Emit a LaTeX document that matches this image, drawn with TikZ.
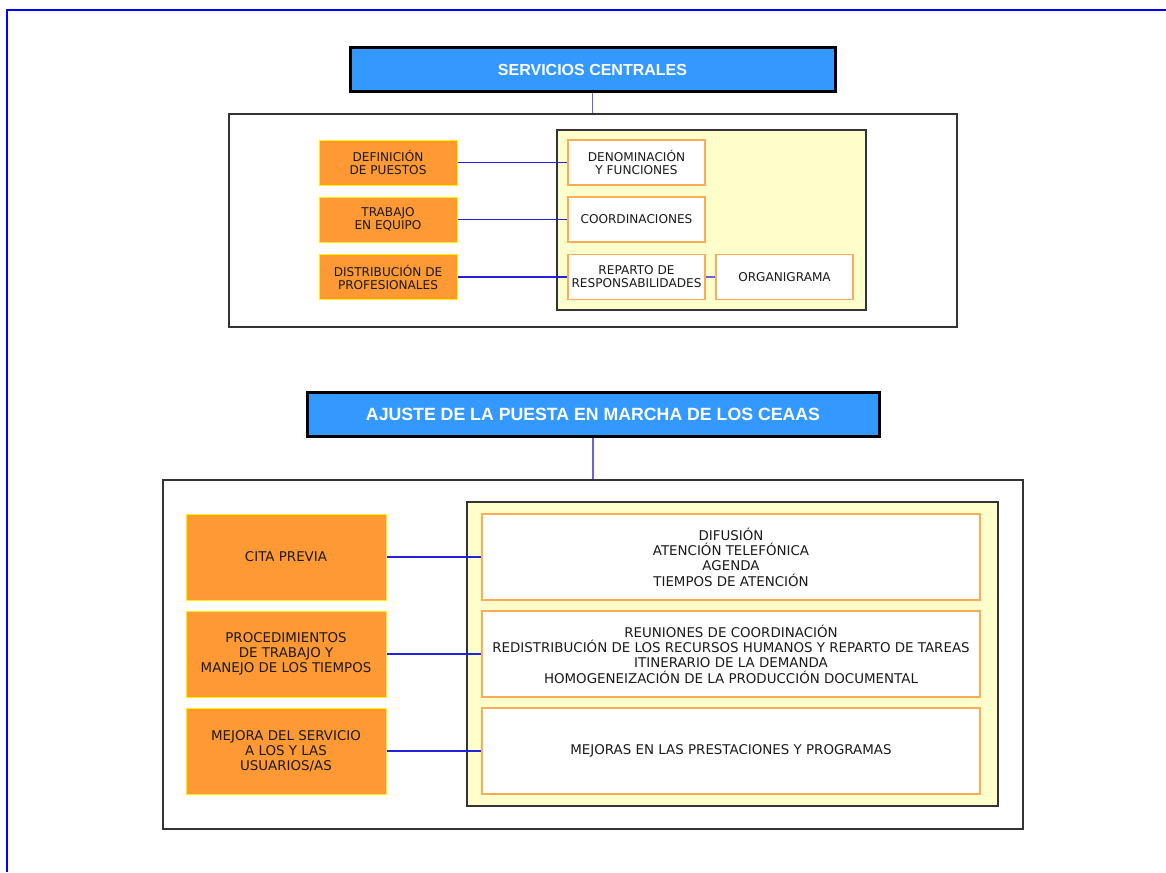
\documentclass[tikz,border=0pt]{standalone}
\usepackage{fontspec}
\setmainfont{DejaVu Sans}
\newfontfamily\headfont{Liberation Sans}
\definecolor{hdrblue}{HTML}{3399FF}
\definecolor{orng}{HTML}{FF9933}
\definecolor{paleyel}{HTML}{FFFFCC}
\definecolor{leafedge}{HTML}{FFAA55}
\definecolor{linkblue}{HTML}{2222DD}
\definecolor{ink}{HTML}{1A1A1A}
\begin{document}
\begin{tikzpicture}[x=1pt,y=-1pt,
  box/.style={rectangle,inner sep=0pt,align=center,text=ink},
  outerframe/.style={box,draw=black!80,line width=1.3pt,fill=white},
  hdr/.style={box,draw=black,line width=3pt,fill=hdrblue,text=white,minimum height=44pt},
  item/.style={box,draw=yellow,fill=orng,line width=1pt},
  panel/.style={box,draw=black!80,fill=paleyel,line width=1.2pt},
  leaf/.style={box,draw=leafedge,fill=white,line width=1.2pt},
  small/.style={font=\fontsize{12.1}{13}\selectfont,minimum width=138pt,minimum height=45pt},
  large/.style={font=\fontsize{13.4}{15.3}\selectfont,minimum height=86pt},
  link/.style={draw=linkblue,line width=1.2pt},
  pageline/.style={draw=blue,line width=2pt}]
\useasboundingbox (0,0) rectangle (1166,872);

% page border (top and left edges)
\draw[pageline] (7,872) -- (7,10) -- (1166,10);

% ---------- upper block ----------
\node[hdr,minimum width=485pt,font=\headfont\bfseries\fontsize{16}{18}\selectfont] (h1) at (592.5,70) {SERVICIOS CENTRALES};
\node[outerframe,minimum width=728pt,minimum height=213pt] (f1) at (593,220.5) {};
\draw[link,draw=linkblue!70] (h1.south) -- (h1.south |- f1.north);

\node[panel,minimum width=309pt,minimum height=180pt] (p1) at (711.5,220) {};

\node[item,small] (a1) at (388,162.5) {DEFINICIÓN\\DE PUESTOS};
\node[item,small] (a2) at (388,219.5) {TRABAJO\\EN EQUIPO};
\node[item,small] (a3) at (388,277) {DISTRIBUCIÓN DE\\PROFESIONALES};

\node[leaf,small,minimum width=137pt] (b1) at (636.5,162.5) {DENOMINACIÓN\\Y FUNCIONES};
\node[leaf,small,minimum width=137pt] (b2) at (636.5,219.5) {COORDINACIONES};
\node[leaf,small,minimum width=137pt] (b3) at (636.5,277) {REPARTO DE\\RESPONSABILIDADES};
\node[leaf,small,minimum width=137pt] (b4) at (784.5,277) {ORGANIGRAMA};

\draw[link] (a1.east) -- (b1.west);
\draw[link] (a2.east) -- (b2.west);
\draw[link,line width=2pt] (a3.east) -- (b3.west);
\draw[link,draw=linkblue!70] (b3.east) -- (b4.west);

% ---------- lower block ----------
\node[hdr,minimum width=572pt,font=\headfont\bfseries\fontsize{17.7}{20}\selectfont] (h2) at (593,414) {AJUSTE DE LA PUESTA EN MARCHA DE LOS CEAAS};
\node[outerframe,minimum width=860pt,minimum height=349pt] (f2) at (593,654.5) {};
\draw[link,draw=linkblue!70] (h2.south) -- (h2.south |- f2.north);

\node[panel,minimum width=531pt,minimum height=304pt] (p2) at (732.5,654) {};

\node[item,large,minimum width=200pt] (c1) at (286,557) {CITA PREVIA};
\node[item,large,minimum width=200pt] (c2) at (286,654) {PROCEDIMIENTOS\\DE TRABAJO Y\\MANEJO DE LOS TIEMPOS};
\node[item,large,minimum width=200pt] (c3) at (286,751) {MEJORA DEL SERVICIO\\A LOS Y LAS\\USUARIOS/AS};

\node[leaf,large,minimum width=498pt] (d1) at (731,557) {DIFUSIÓN\\ATENCIÓN TELEFÓNICA\\AGENDA\\TIEMPOS DE ATENCIÓN};
\node[leaf,large,minimum width=498pt] (d2) at (731,654) {REUNIONES DE COORDINACIÓN\\REDISTRIBUCIÓN DE LOS RECURSOS HUMANOS Y REPARTO DE TAREAS\\ITINERARIO DE LA DEMANDA\\HOMOGENEIZACIÓN DE LA PRODUCCIÓN DOCUMENTAL};
\node[leaf,large,minimum width=498pt] (d3) at (731,751) {MEJORAS EN LAS PRESTACIONES Y PROGRAMAS};

\draw[link] (c1.east) -- (d1.west);
\draw[link] (c2.east) -- (d2.west);
\draw[link] (c3.east) -- (d3.west);
\end{tikzpicture}
\end{document}
